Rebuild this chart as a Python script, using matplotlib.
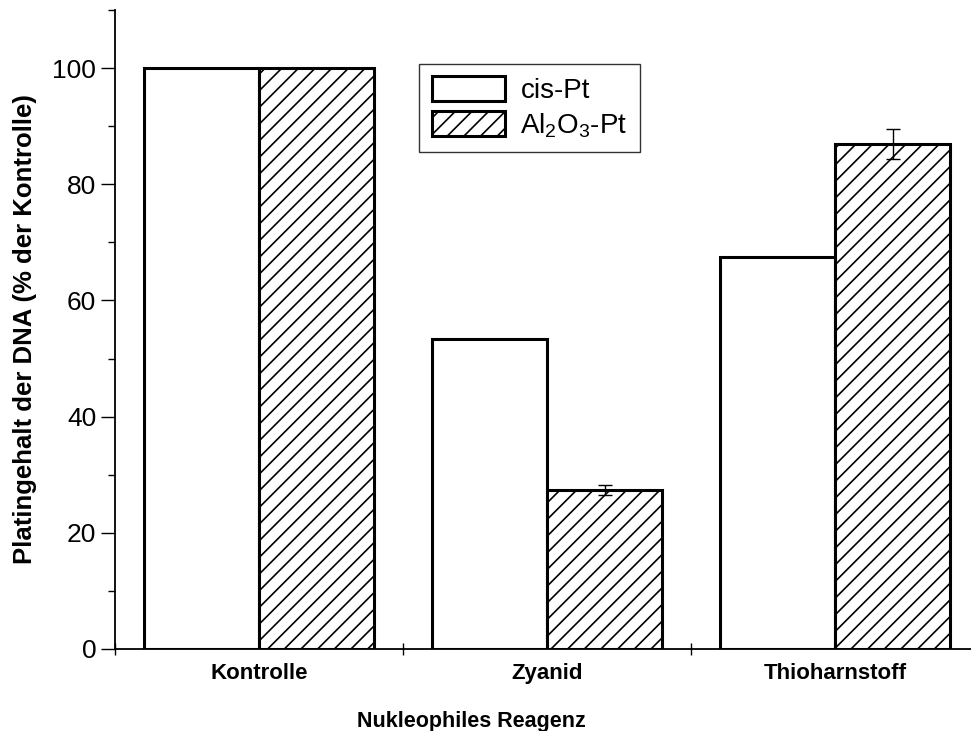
import numpy as np
import matplotlib
matplotlib.use('Agg')
import matplotlib.pyplot as plt
from matplotlib.ticker import MultipleLocator

plt.rcParams['font.family'] = ['Liberation Sans', 'DejaVu Sans']
plt.rcParams['mathtext.fontset'] = 'custom'
plt.rcParams['mathtext.rm'] = 'Liberation Sans'
plt.rcParams['mathtext.it'] = 'Liberation Sans:italic'
plt.rcParams['mathtext.default'] = 'regular'
plt.rcParams['hatch.linewidth'] = 1.2

# data
reagents = ['Kontrolle', 'Zyanid', 'Thioharnstoff']
cis_pt = [100, 53.3, 67.5]
al2o3_pt = [100, 27.3, 86.9]
al2o3_err = [0, 0.85, 2.6]
series_names = ['cis-Pt', 'Al$_2$O$_3$-Pt']

fig = plt.figure(figsize=(9.71, 7.31), dpi=100)
ax = fig.add_axes([0.1184, 0.1122, 0.8898, 0.8742])

x = np.arange(len(reagents)) + 0.5
w = 0.4
ax.bar(x - w/2, cis_pt, w, color='white', edgecolor='black', linewidth=2.2,
       label=series_names[0])
ax.bar(x + w/2, al2o3_pt, w, color='white', edgecolor='black', linewidth=2.2,
       hatch='//', label=series_names[1])
# error bars only where there is one
idx = [i for i, e in enumerate(al2o3_err) if e > 0]
ax.errorbar(x[idx] + w/2, np.array(al2o3_pt)[idx], yerr=np.array(al2o3_err)[idx],
            fmt='none', ecolor='black', elinewidth=1.0, capsize=4.7, capthick=1.0)

ax.set_xlim(0, 3)
ax.set_ylim(0, 110)
ax.spines['top'].set_visible(False)
ax.spines['right'].set_visible(False)
ax.spines['left'].set_linewidth(1.3)
ax.spines['bottom'].set_linewidth(1.3)

ax.set_yticks([0, 20, 40, 60, 80, 100])
ax.yaxis.set_minor_locator(MultipleLocator(10))
ax.tick_params(axis='y', which='major', direction='out', length=10, width=1.0,
               labelsize=19, pad=3.5)
ax.tick_params(axis='y', which='minor', direction='out', length=5, width=1.0)

ax.set_xticks([0, 1, 2, 3])
ax.set_xticklabels([])
ax.set_xticks(x, reagents, minor=True)
ax.tick_params(axis='x', which='major', direction='inout', length=9, width=1.0)
ax.tick_params(axis='x', which='minor', length=0, pad=10, labelsize=16)
for t in ax.get_xticklabels(minor=True):
    t.set_fontweight('bold')

ax.set_ylabel('Platingehalt der DNA (% der Kontrolle)', fontsize=18.5,
              fontweight='bold', labelpad=11)
ax.set_xlabel('Nukleophiles Reagenz', fontsize=15.5, fontweight='bold')
ax.xaxis.set_label_coords(0.413, -0.097)

leg = ax.legend(loc='upper left', bbox_to_anchor=(419/971, 1 - 64/731),
                bbox_transform=fig.transFigure, fontsize=20, frameon=True,
                fancybox=False, edgecolor='black', borderaxespad=0,
                handlelength=2.66, handleheight=1.0, borderpad=0.45,
                labelspacing=0.25, handletextpad=0.54)
leg.get_frame().set_linewidth(1.0)

fig.savefig('out.png', dpi=100)
